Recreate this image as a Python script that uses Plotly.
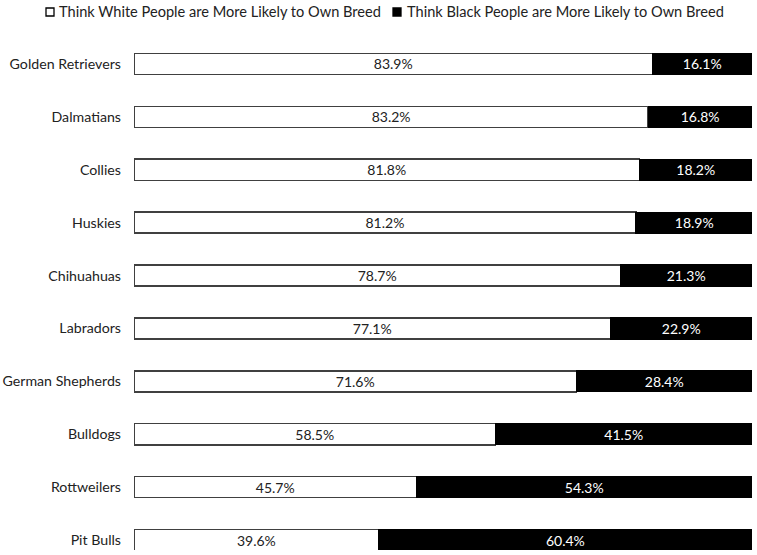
import plotly.graph_objects as go

breeds = ["Pit Bulls", "Rottweilers", "Bulldogs", "German Shepherds", "Labradors",
          "Chihuahuas", "Huskies", "Collies", "Dalmatians", "Golden Retrievers"]
white_pct = [39.6, 45.7, 58.5, 71.6, 77.1, 78.7, 81.2, 81.8, 83.2, 83.9]
black_pct = [60.4, 54.3, 41.5, 28.4, 22.9, 21.3, 18.9, 18.2, 16.8, 16.1]
series_names = ["Think White People are More Likely to Own Breed",
                "Think Black People are More Likely to Own Breed"]

FONT = "Lato, Calibri, Carlito, sans-serif"
W, H = 757, 555
ML, MR, MT, MB = 134, 5, 30, 5
PW, PH = W - ML - MR, H - MT - MB
ROW = 52.89  # pixel pitch between rows


def px_x(p):
    return (p - ML) / PW


def px_y(p):
    return (H - MB - p) / PH


pos = list(range(len(breeds)))

fig = go.Figure()
fig.add_trace(go.Bar(
    y=pos, x=white_pct, orientation="h", name=series_names[0],
    marker=dict(color="white", line=dict(color="#404040", width=1.5)),
    text=[f"{v:.1f}%" for v in white_pct], textposition="inside",
    insidetextanchor="middle", textfont=dict(color="#222", size=14, family=FONT),
    width=0.4, showlegend=False,
))
fig.add_trace(go.Bar(
    y=pos, x=black_pct, orientation="h", name=series_names[1],
    marker=dict(color="black", line=dict(color="black", width=1)),
    text=[f"{v:.1f}%" for v in black_pct], textposition="inside",
    insidetextanchor="middle", textfont=dict(color="white", size=14, family=FONT),
    width=0.4, showlegend=False,
))

# legend drawn as swatches + text
legend_items = [(46, 57, "white", series_names[0]), (393, 405, "black", series_names[1])]
for sx, tx, col, name in legend_items:
    fig.add_shape(type="rect", xref="paper", yref="paper",
                  x0=px_x(sx), x1=px_x(sx + 8), y0=px_y(16), y1=px_y(8),
                  fillcolor=col, line=dict(color="black", width=1.3))
    fig.add_annotation(xref="paper", yref="paper", x=px_x(tx), y=px_y(12),
                       xanchor="left", yanchor="middle", showarrow=False,
                       text=name, font=dict(size=14.6, family=FONT, color="#222"))

fig.update_layout(
    barmode="stack",
    width=W, height=H,
    margin=dict(l=ML, r=MR, t=MT, b=MB, autoexpand=False),
    paper_bgcolor="white", plot_bgcolor="white",
    font=dict(family=FONT, size=14, color="#222"),
    uniformtext=dict(minsize=14, mode="show"),
    showlegend=False,
    xaxis=dict(range=[0, 100], visible=False, fixedrange=True),
    yaxis=dict(range=[-10 / ROW, (540 - 30) / ROW],
               tickmode="array", tickvals=pos, ticktext=breeds, automargin=False,
               showgrid=False, zeroline=False, showline=False, ticks="",
               ticklabelstandoff=12, tickfont=dict(size=14.2, color="#222")),
)

fig.write_html("out.html", config={"displayModeBar": False},
               post_script="document.body.style.margin='0';document.body.style.overflow='hidden';")
